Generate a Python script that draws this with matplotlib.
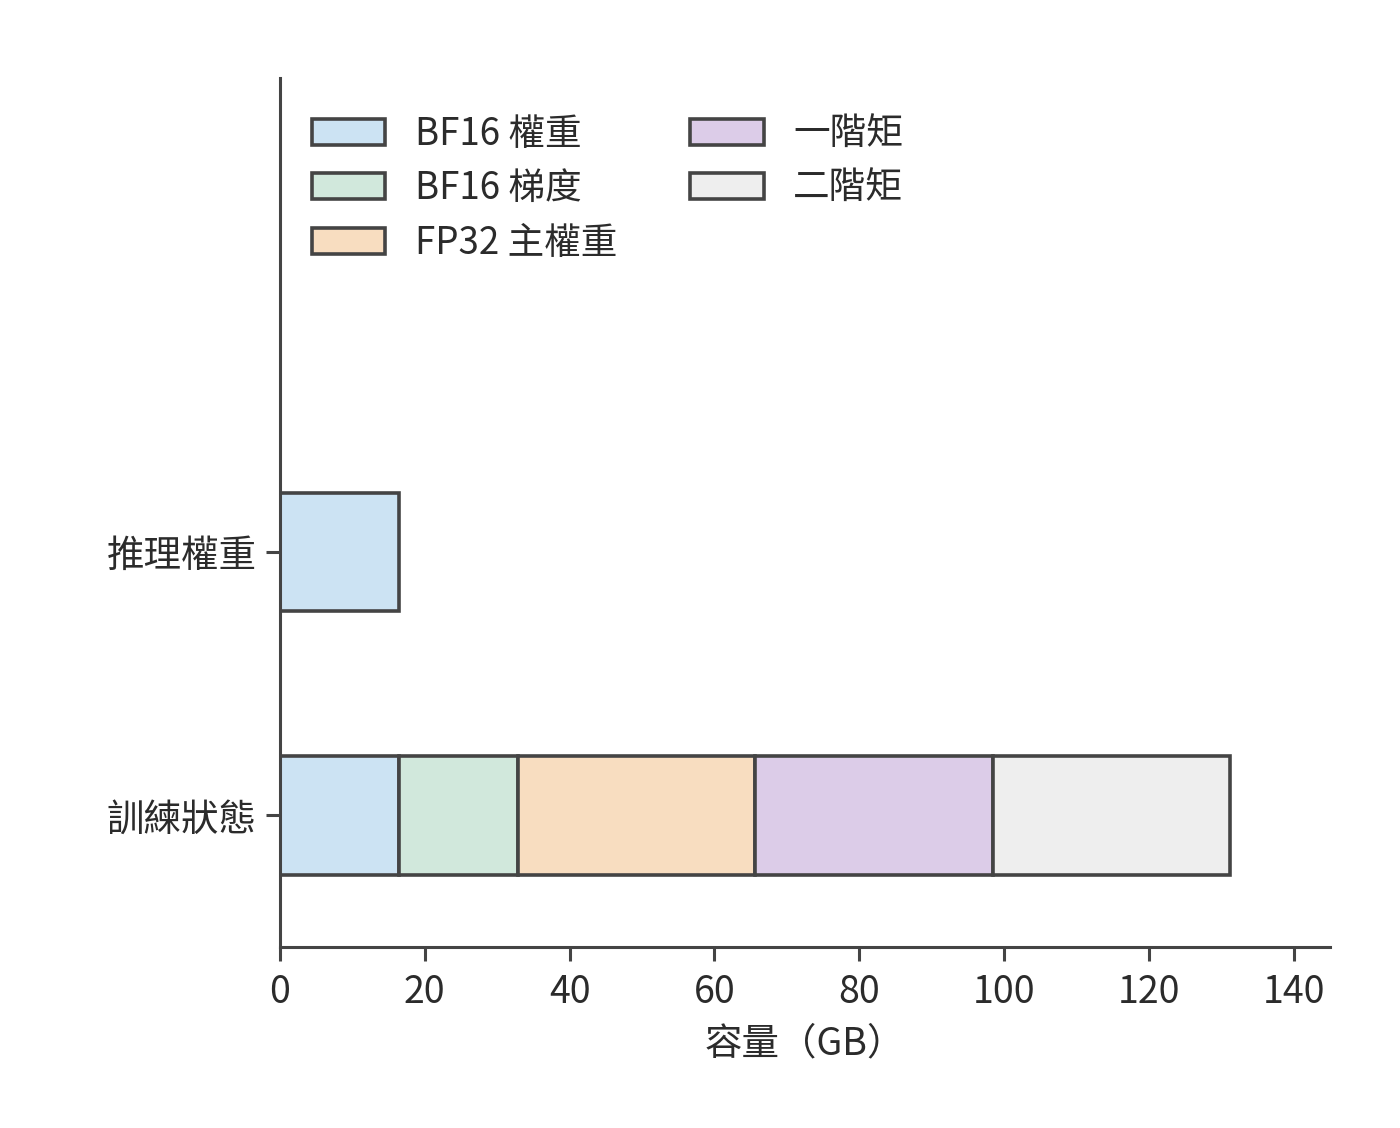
import matplotlib
matplotlib.use("Agg")
import matplotlib.pyplot as plt
import numpy as np

plt.rcParams['font.family'] = ['Noto Sans CJK TC', 'DejaVu Sans']

categories = ['訓練狀態', '推理權重']
series_names = ['BF16 權重', 'BF16 梯度', 'FP32 主權重', '一階矩', '二階矩']
# values per series for [訓練狀態, 推理權重]
bf16_weights = [16.4, 16.4]
bf16_grads = [16.4, 0.0]
fp32_master = [32.8, 0.0]
moment1 = [32.8, 0.0]
moment2 = [32.8, 0.0]
series_values = [bf16_weights, bf16_grads, fp32_master, moment1, moment2]
colors = ['#cce3f3', '#d1e8dc', '#f8ddc0', '#dccce8', '#eeeeee']
xticks = [0, 20, 40, 60, 80, 100, 120, 140]

edge = '#444444'
txt = '#2b2b2b'

fig = plt.figure(figsize=(7, 5.64), dpi=200)
ax = fig.add_axes([280/1400, 1 - 947/1128, (1330-280)/1400, (947-78)/1128])

y = np.arange(len(categories))
left = np.zeros(len(categories))
for name, vals, c in zip(series_names, series_values, colors):
    vals = np.array(vals)
    mask = vals > 0
    ax.barh(y[mask], vals[mask], left=left[mask], height=0.45, color=c,
            edgecolor=edge, linewidth=1.3, label=name)
    left += vals

ax.set_xlim(0, 145)
ax.set_ylim(-0.5, 2.8)
ax.set_yticks(y)
ax.set_yticklabels(categories)
ax.set_xticks(xticks)
ax.set_xlabel('容量（GB）', fontsize=13.5, color=txt, labelpad=4.5)

for s in ['top', 'right']:
    ax.spines[s].set_visible(False)
for s in ['left', 'bottom']:
    ax.spines[s].set_color(edge)
    ax.spines[s].set_linewidth(1.1)
ax.tick_params(axis='both', colors=edge, labelcolor=txt, labelsize=13.5,
               width=1.1, length=5)
ax.tick_params(axis='x', pad=4.5)
ax.tick_params(axis='y', pad=3.5)

leg = ax.legend(loc='upper left', bbox_to_anchor=(0.0305, 0.9577), ncol=2,
                frameon=False, fontsize=13.2,
                handlelength=2.0, handletextpad=0.8, columnspacing=2.0,
                labelspacing=0.42, borderaxespad=0.0, borderpad=0.0)
for t in leg.get_texts():
    t.set_color(txt)

fig.savefig('out.png', dpi=200)
